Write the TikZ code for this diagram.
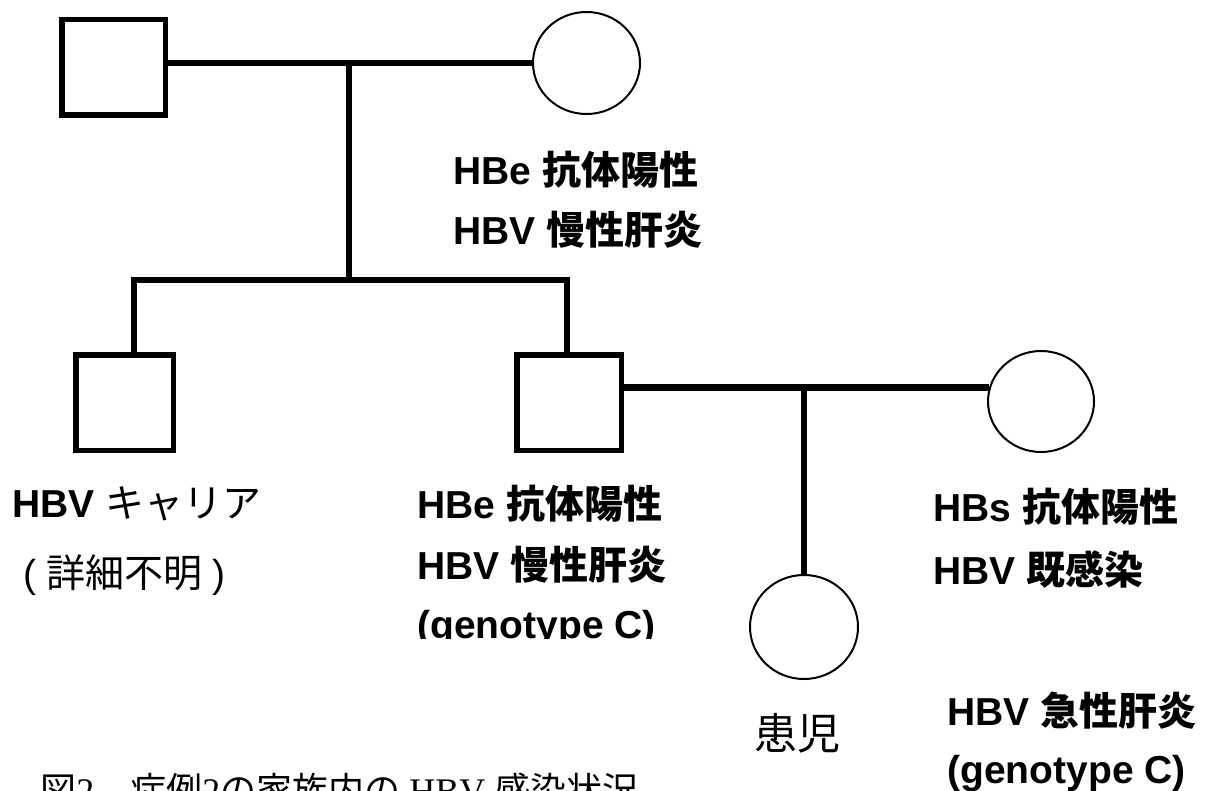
\documentclass[tikz,border=0pt]{standalone}
\usepackage{fontspec}
\usetikzlibrary{shapes.geometric}
\newfontfamily\lat{Liberation Sans}
\newfontfamily\jp{Noto Sans CJK JP}
\newfontfamily\ser{Liberation Serif}
\begin{document}
\begin{tikzpicture}[x=0.5pt,y=-0.5pt,
  male/.style={draw,line width=2.75pt,rectangle,inner sep=0pt,minimum height=47.75pt},
  female/.style={draw,line width=1pt,ellipse,inner sep=0pt},
  link/.style={line width=3.4pt,line join=miter},
  lbl/.style={anchor=base west,inner sep=0pt,font=\fontsize{19.5pt}{22pt}\selectfont\lat\bfseries},
  rlbl/.style={anchor=base west,inner sep=0pt,font=\fontsize{19.5pt}{22pt}\selectfont\lat},
  captext/.style={anchor=base west,inner sep=0pt,font=\fontsize{18pt}{20pt}\selectfont\ser}]
\useasboundingbox (0,0) rectangle (1210,791);
\fill[white] (0,0) rectangle (1210,791);

% generation 1
\node[male,minimum width=51.75pt] (f1) at (113.5,67.5) {};
\node[female,minimum width=53.5pt,minimum height=51pt] (m1) at (586.5,63) {};
% generation 2
\node[male,minimum width=48.75pt] (c1) at (124.5,402.5) {};
\node[male,minimum width=52.25pt] (c2) at (569,402.5) {};
\node[female,minimum width=53pt,minimum height=50.5pt] (w2) at (1041,401.5) {};
% generation 3
\node[female,minimum width=54pt,minimum height=52pt] (ch) at (804,627) {};

% connectors
\coordinate (j1) at (349,63);
\coordinate (s1) at (349,280);
\coordinate (sl) at (134,280);
\coordinate (sr) at (567,280);
\draw[link] (f1.east |- m1.west) -- (m1.west);
\draw[link] (j1) -- (s1);
\draw[link] (sl |- c1.north) -- (sl) -- (sr) -- (sr |- c2.north);
\coordinate (j2) at (ch.north |- w2.165.2);
\draw[link] (c2.east |- w2.165.2) -- (w2.165.2);
\draw[link] (j2) -- (ch.north);

% labels
\node[lbl] (t1) at (453,185) {HBe {\jp 抗体陽性}};
\node[lbl] (t2) at (453,245) {HBV {\jp 慢性肝炎}};
\node[lbl] (l1) at (12,517) {HBV {\jp\mdseries キャリア}};
\node[rlbl] (l2) at (23,587) {(\hspace{5pt}{\jp 詳細不明}\hspace{5pt})};
\node[lbl] (m1a) at (417,518) {HBe {\jp 抗体陽性}};
\node[lbl] (m2a) at (417,579) {HBV {\jp 慢性肝炎}};
\begin{scope}
\clip (400,600) rectangle (700,638);
\node[lbl] (m3a) at (417,638) {(genotype C)};
\end{scope}
\node[lbl] (r1) at (933,521) {HBs {\jp 抗体陽性}};
\node[lbl] (r2) at (933,584) {HBV {\jp 既感染}};
\node[lbl] (b1) at (947,725) {HBV {\jp 急性肝炎}};
\node[lbl] (b2) at (947,783) {(genotype C)};
\node[anchor=base,inner sep=0pt,font=\fontsize{21.5pt}{24pt}\selectfont\jp] (chl) at (797,749) {患児};
\node[captext] (capt) at (40,803) {{\jp 図}2{\jp 　症例}2{\jp の家族内の} HBV {\jp 感染状況}};
\end{tikzpicture}
\end{document}
